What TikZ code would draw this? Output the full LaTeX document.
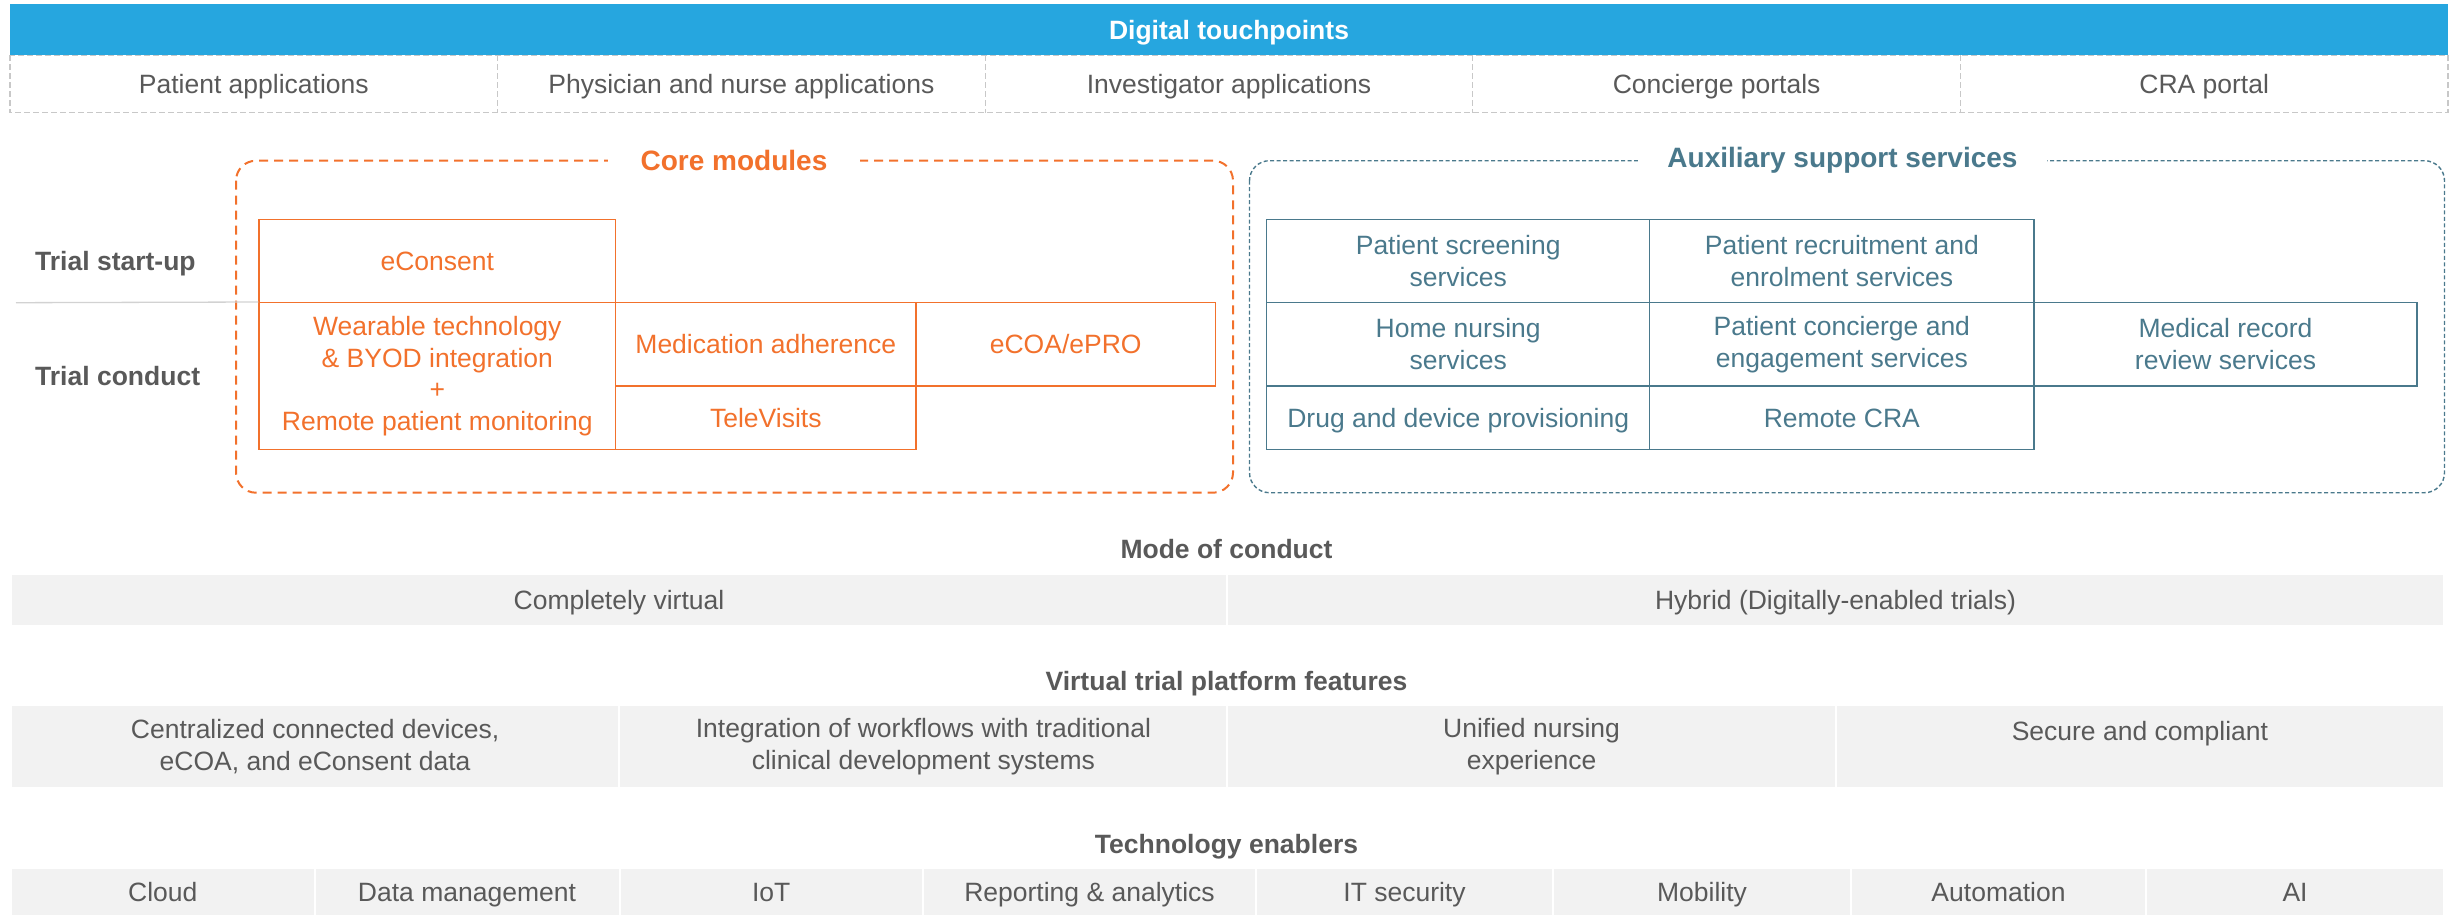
\documentclass[tikz,border=0pt]{standalone}
\usepackage{fontspec}
\setmainfont{Liberation Sans}
\usetikzlibrary{calc}

\definecolor{tpblue}{RGB}{38,166,223}
\definecolor{coreorange}{RGB}{242,113,44}
\definecolor{auxblue}{RGB}{74,121,140}
\definecolor{txtgrey}{RGB}{89,89,89}
\definecolor{panelgrey}{RGB}{242,242,242}
\definecolor{dashgrey}{RGB}{200,200,200}
\definecolor{rulegrey}{RGB}{210,210,210}

\tikzset{
	txt/.style={font=\fontsize{26.5}{31.7}\selectfont, text=txtgrey, align=center, inner sep=0pt},
	one/.style={text height=19pt, text depth=0pt},
	head/.style={font=\bfseries\fontsize{26.5}{31.7}\selectfont, text=txtgrey, inner sep=0pt, one},
	sz/.style 2 args={minimum width=#1pt, minimum height=#2pt},
	tpdash/.style={draw=dashgrey, line width=1.3pt, dash pattern=on 6pt off 3pt},
	ocell/.style={txt, draw=coreorange, text=coreorange, line width=1.4pt},
	acell/.style={txt, draw=auxblue, text=auxblue, line width=1.4pt},
	gcell/.style={txt, fill=panelgrey, draw=white, line width=2pt},
	coreframe/.style={draw=coreorange, line width=2pt, dash pattern=on 9pt off 6pt, rounded corners=20pt},
	auxframe/.style={draw=auxblue, line width=1.4pt, dash pattern=on 4pt off 2.5pt, rounded corners=20pt},
	frametitle/.style={fill=white, inner ysep=2pt, font=\bfseries\fontsize{28}{32}\selectfont},
}

\begin{document}
\begin{tikzpicture}[x=1pt,y=-1pt]
		%%%%% START %%%%%
		\useasboundingbox (0,0) rectangle (2453,916);
		
		% digital touchpoints
		\draw[tpdash] (10,55) rectangle (2448,112.7);
		\foreach \x in {497.6,985.2,1472.8,1960.4}
			\draw[tpdash] (\x,55) -- (\x,112.7);
		\node[head, fill=tpblue, text=white, sz={2438}{51}] (digital) at (1229,29.5) {Digital touchpoints};
		\foreach \lbl [count=\i from 0] in {Patient applications, Physician and nurse applications, Investigator applications, Concierge portals, CRA portal}
			\node[txt, one] (tp\i) at ({253.8+487.6*\i}, 84) {\lbl};
		
		% frames
		\draw[coreframe] (236,160.7) rectangle (1233,492.7);
		\node[frametitle, text=coreorange, inner xsep=33pt] (coretitle) at (734,160.7) {Core modules};
		\draw[auxframe] (1249.5,160.7) rectangle (2444.5,492.7);
		\node[frametitle, text=auxblue, inner xsep=29pt] (auxtitle) at (1842.5,160.7) {Auxiliary support services};
		
		% trial phases
		\node[head, anchor=west] (startup) at (35,261) {Trial start-up};
		\node[head, anchor=west] (conduct) at (35,376) {Trial conduct};
		\coordinate (rulestart) at (16,302.7);
		
		% core modules
		\node[ocell, one, sz={356.6}{83.4}] (econsent) at (437.3,261) {eConsent};
		\node[ocell, sz={356.6}{146.6}] (wear) at (437.3,376) {Wearable technology\\ \& BYOD integration\\ +\\ Remote patient monitoring};
		\node[ocell, one, sz={300.4}{83.3}] (medadh) at (765.8,344.35) {Medication adherence};
		\node[ocell, one, sz={299.4}{83.3}] (ecoa) at (1065.7,344.35) {eCOA/ePRO};
		\node[ocell, one, sz={300.4}{63.3}] (televisits) at (765.8,417.65) {TeleVisits};
		\draw[rulegrey, line width=1.3pt] (rulestart) -- (wear.north west);
		
		% auxiliary support services
		\node[acell, sz={383}{83.4}] (screening) at (1458.2,261) {Patient screening\\ services};
		\node[acell, sz={384.3}{83.4}] (recruit) at (1841.85,261) {Patient recruitment and\\ enrolment services};
		\node[acell, sz={383}{83.3}] (nursing) at (1458.2,344.35) {Home nursing\\ services};
		\node[acell, sz={384.3}{83.3}] (concierge) at (1841.85,344.35) {Patient concierge and\\ engagement services};
		\node[acell, sz={383}{83.3}] (records) at (2225.5,344.35) {Medical record\\ review services};
		\node[acell, one, sz={383}{63.3}] (drugs) at (1458.2,417.65) {Drug and device provisioning};
		\node[acell, one, sz={384.3}{63.3}] (remotecra) at (1841.85,417.65) {Remote CRA};
		
		% mode of conduct
		\node[head] (modehead) at (1226.5,549) {Mode of conduct};
		\node[gcell, one, sz={1216}{52}] (virtual) at (619,600) {Completely virtual};
		\node[gcell, one, sz={1217}{52}] (hybrid) at (1835.5,600) {Hybrid (Digitally-enabled trials)};
		
		% platform features
		\node[head] (feathead) at (1226.5,681) {Virtual trial platform features};
		\node[gcell, sz={608.25}{83.3}] (feat1) at (315.1,746.65) {Centralized connected devices,\\ eCOA, and eConsent data};
		\node[gcell, sz={608.25}{83.3}] (feat2) at (923.4,746.65) {Integration of workflows with traditional\\ clinical development systems};
		\node[gcell, sz={608.25}{83.3}] (feat3) at (1531.6,746.65) {Unified nursing\\ experience};
		\node[gcell, sz={608.25}{83.3}] (feat4) at (2139.9,746.65) {Secure and compliant\\ \phantom{x}};
		
		% technology enablers
		\node[head] (enabhead) at (1226.5,844) {Technology enablers};
		\foreach \xa/\xb/\lbl [count=\i] in {11/314.5/Cloud, 314.5/619.5/Data management, 619.5/923/IoT, 923/1256/Reporting \& analytics, 1256/1553/IT security, 1553/1851/Mobility, 1851/2146/Automation, 2146/2444/AI}
		{
			\pgfmathsetmacro\w{\xb-\xa}
			\node[gcell, one, sz={\w}{47.7}] (en\i) at ({(\xa+\xb)/2}, 892.15) {\lbl};
		}
		
		%%%%% END %%%%%
	\end{tikzpicture}
\end{document}
